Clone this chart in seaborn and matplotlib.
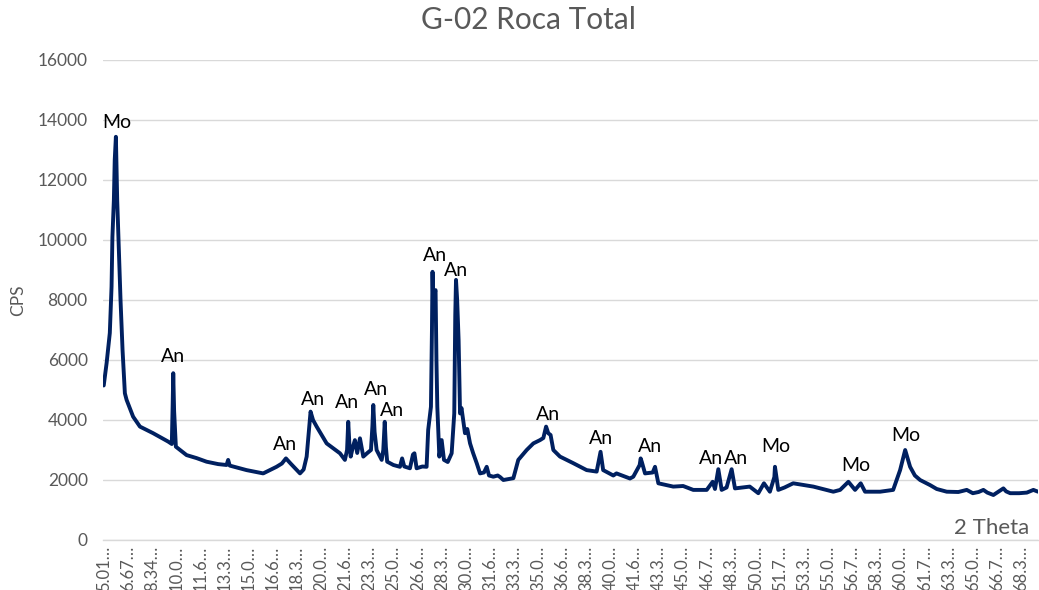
import numpy as np
import pandas as pd
import matplotlib
matplotlib.use("Agg")
import matplotlib.pyplot as plt
import seaborn as sns

# ---- data ----
theta = [5.00, 5.20, 5.42, 5.54, 5.60, 5.70, 5.76, 5.84, 5.93, 6.02, 6.16, 6.30, 6.46, 6.58,
         7.03, 7.50, 8.41, 9.45, 9.70, 9.76, 9.80, 9.86, 9.98, 10.72, 11.41, 12.10, 12.90,
         13.48, 13.59, 13.70, 14.86, 16.01, 16.93, 17.30, 17.58, 17.90, 18.30, 18.55, 18.80,
         19.01, 19.28, 19.45, 19.70, 20.39, 21.31, 21.65, 21.80, 21.88, 21.96, 22.05, 22.20,
         22.34, 22.50, 22.69, 22.92, 23.20, 23.45, 23.55, 23.61, 23.70, 23.84, 24.19, 24.30,
         24.40, 24.48, 24.57, 25.00, 25.45, 25.60, 25.75, 26.14, 26.35, 26.45, 26.60, 27.00,
         27.29, 27.40, 27.59, 27.66, 27.70, 27.76, 27.82, 27.91, 27.97, 28.03, 28.17, 28.33,
         28.49, 28.75, 29.02, 29.20, 29.27, 29.32, 29.40, 29.50, 29.60, 29.70, 29.94, 30.10,
         30.29, 30.50, 30.75, 30.98, 31.25, 31.44, 31.60, 31.90, 32.20, 32.36, 32.59, 33.28,
         33.62, 34.20, 34.66, 35.12, 35.35, 35.54, 35.69, 35.85, 36.04, 36.50, 37.42, 38.34,
         39.03, 39.30, 39.48, 40.18, 40.40, 41.33, 41.56, 42.00, 42.07, 42.15, 42.37, 42.90,
         43.06, 43.29, 44.32, 45.00, 45.70, 46.63, 47.04, 47.20, 47.43, 47.66, 48.00, 48.35,
         48.58, 49.60, 50.19, 50.58, 50.99, 51.30, 51.34, 51.57, 52.00, 52.60, 53.99, 55.37,
         55.84, 56.41, 56.87, 57.26, 57.56, 58.60, 59.50, 59.98, 60.33, 60.67, 61.00, 61.36,
         62.05, 62.51, 63.20, 64.00, 64.58, 65.00, 65.40, 65.73, 66.00, 66.42, 67.11, 67.30,
         67.58, 68.20, 68.73, 69.18, 69.50]
cps = [5150, 5900, 6900, 8440, 10100, 11330, 12670, 13440, 11330, 10000, 8000, 6330, 4890, 4670,
       4110, 3780, 3560, 3280, 3200, 4500, 5560, 4300, 3110, 2830, 2730, 2610, 2530,
       2500, 2670, 2480, 2330, 2220, 2440, 2550, 2720, 2550, 2350, 2220, 2350,
       2780, 4280, 4000, 3780, 3220, 2890, 2670, 3000, 3940, 3200, 2780, 3100,
       3330, 2900, 3390, 2780, 2900, 3000, 3800, 4500, 3600, 3000, 2670, 3000,
       3940, 3100, 2610, 2500, 2440, 2720, 2450, 2390, 2850, 2890, 2390, 2450,
       2440, 3670, 4440, 7000, 8940, 7500, 8230, 8330, 6000, 4440, 2780, 3330,
       2670, 2600, 2890, 4220, 7500, 8670, 8000, 6670, 4220, 4400, 3560, 3700,
       3220, 2900, 2560, 2220, 2250, 2440, 2150, 2110, 2150, 2100, 2000, 2060,
       2670, 3000, 3220, 3330, 3400, 3780, 3560, 3500, 3000, 2780, 2560, 2330,
       2280, 2940, 2330, 2150, 2220, 2050, 2110, 2500, 2720, 2600, 2220, 2250,
       2440, 1890, 1780, 1800, 1670, 1670, 1940, 1700, 2360, 1670, 1750, 2360,
       1720, 1780, 1560, 1890, 1610, 2100, 2440, 1670, 1750, 1890, 1780, 1610,
       1670, 1940, 1670, 1890, 1610, 1610, 1670, 2330, 3000, 2440, 2150, 2000,
       1830, 1700, 1610, 1600, 1670, 1560, 1600, 1670, 1580, 1500, 1720, 1620,
       1560, 1560, 1580, 1670, 1610]

peak_labels = ["Mo", "An", "An", "An", "An", "An", "An", "An", "An", "An", "An", "An",
               "An", "An", "Mo", "Mo", "Mo"]
peak_theta = [5.91, 9.78, 17.51, 19.44, 21.79, 23.79, 24.90, 27.87, 29.32, 35.67, 39.33,
              42.72, 46.93, 48.66, 51.42, 56.94, 60.40]
peak_cps = [13900, 6100, 3200, 4670, 4600, 5030, 4300, 9470, 8970, 4200, 3400,
            3100, 2700, 2700, 3130, 2470, 3470]

tick_labels = ["5.01…", "6.67…", "8.34…", "10.0…", "11.6…", "13.3…", "15.0…", "16.6…",
               "18.3…", "20.0…", "21.6…", "23.3…", "25.0…", "26.6…", "28.3…", "30.0…",
               "31.6…", "33.3…", "35.0…", "36.6…", "38.3…", "40.0…", "41.6…", "43.3…",
               "45.0…", "46.7…", "48.3…", "50.0…", "51.7…", "53.3…", "55.0…", "56.7…",
               "58.3…", "60.0…", "61.7…", "63.3…", "65.0…", "66.7…", "68.3…"]
y_ticks = [0, 2000, 4000, 6000, 8000, 10000, 12000, 14000, 16000]

title = "G-02 Roca Total"

# ---- plotting ----
sns.set_theme(style="white")
plt.rcParams['font.family'] = ['Lato', 'DejaVu Sans']

W, H = 1039, 590
fig = plt.figure(figsize=(W / 100, H / 100), dpi=100)
ax = fig.add_axes([103 / W, (H - 540) / H, (1038 - 103) / W, (540 - 60) / H])

df = pd.DataFrame({"theta": theta, "cps": cps})
sns.lineplot(data=df, x="theta", y="cps", ax=ax, color="#002060", linewidth=2.8,
             estimator=None, sort=False)

gray = "#595959"
ax.set_ylim(0, 16000)
ax.set_xlim(4.95, 69.5)
ax.set_yticks(y_ticks)
ax.set_yticklabels([str(v) for v in y_ticks], color=gray, fontsize=12.5)
tick_pos = [5.01 + i * (5 / 3) for i in range(len(tick_labels))]
ax.set_xticks(tick_pos)
ax.set_xticklabels(tick_labels, rotation=90, color=gray, fontsize=12)
ax.tick_params(axis="y", length=0, pad=11)
ax.tick_params(axis="x", length=0, pad=4)

ax.grid(axis="y", color="#d9d9d9", linewidth=1)
ax.set_axisbelow(True)
for s in ["top", "right", "left"]:
    ax.spines[s].set_visible(False)
ax.spines["bottom"].set_color("#d9d9d9")
ax.spines["bottom"].set_linewidth(1)

ax.set_xlabel("")
ax.set_ylabel("CPS", color=gray, fontsize=12.5, labelpad=8)

for lab, tx, ty in zip(peak_labels, peak_theta, peak_cps):
    ax.text(tx, ty, lab, ha="center", va="center", fontsize=14, color="black")

fig.text(992 / W, 1 - 528 / H, "2 Theta", ha="center", va="center", color=gray, fontsize=16)
fig.text(528 / W, 1 - 20 / H, title, ha="center", va="center", color=gray, fontsize=21.5)

fig.savefig("out.png", dpi=100)
